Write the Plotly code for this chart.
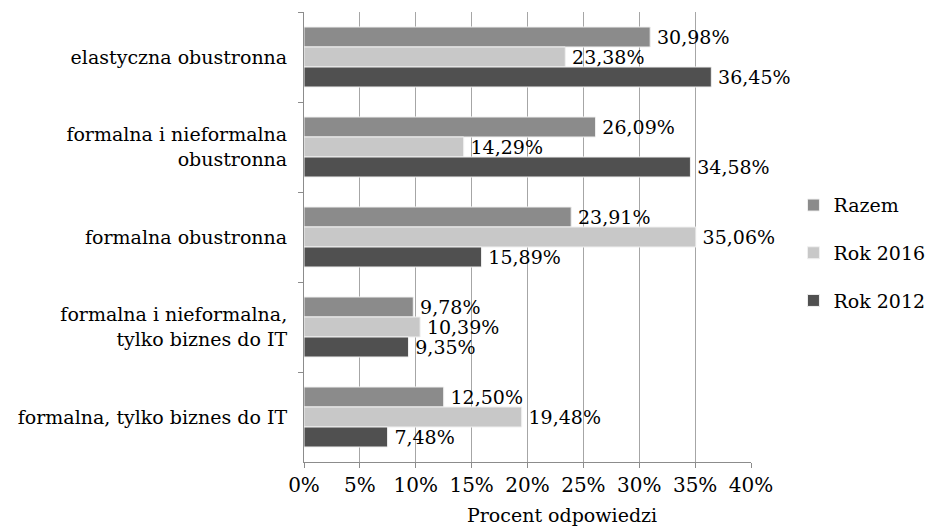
import plotly.graph_objects as go

categories = [
    "elastyczna obustronna",
    "formalna i nieformalna<br>obustronna",
    "formalna obustronna",
    "formalna i nieformalna,<br>tylko biznes do IT",
    "formalna, tylko biznes do IT",
]
series_names = ["Razem", "Rok 2016", "Rok 2012"]
razem = [30.98, 26.09, 23.91, 9.78, 12.50]
rok2016 = [23.38, 14.29, 35.06, 10.39, 19.48]
rok2012 = [36.45, 34.58, 15.89, 9.35, 7.48]
colors = ["#8b8b8b", "#c8c8c8", "#505050"]
x_ticks = [0, 5, 10, 15, 20, 25, 30, 35, 40]

FONT = "DejaVu Serif, Liberation Serif, serif"
FS = 19

def fmt(v):
    return "\u2009" + f"{v:.2f}".replace(".", ",") + "%"

fig = go.Figure()
for i, (name, vals) in enumerate(zip(series_names, [razem, rok2016, rok2012])):
    fig.add_trace(go.Bar(
        y=categories, x=vals, name=name, orientation="h",
        marker=dict(color=colors[i], line=dict(color="#f0f0f0", width=1)),
        text=[fmt(v) for v in vals], textposition="outside",
        constraintext="none",
        textfont=dict(family=FONT, size=FS, color="#000000"),
        cliponaxis=False, legendgroup=name,
    ))

fig.update_layout(
    width=932, height=527,
    margin=dict(l=304, r=181, t=12, b=65, autoexpand=False),
    paper_bgcolor="white", plot_bgcolor="white",
    barmode="group", bargap=1/3, bargroupgap=0,
    font=dict(family=FONT, size=FS, color="#000000"),
    showlegend=True,
    legend=dict(x=1.095, xanchor="left", xref="paper", y=0.464, yanchor="middle",
                bgcolor="rgba(0,0,0,0)",
                traceorder="grouped", tracegroupgap=20,
                font=dict(family=FONT, size=FS), itemwidth=30),
)
fig.update_xaxes(
    range=[0, 40], tickvals=x_ticks, ticktext=[f"{t}%" for t in x_ticks],
    showgrid=True, gridcolor="#a6a6a6", gridwidth=1,
    showline=True, linecolor="#8c8c8c", linewidth=1,
    ticks="outside", ticklen=5, tickcolor="#8c8c8c",
    zeroline=False, tickfont=dict(family=FONT, size=20),
)
fig.update_yaxes(
    autorange="reversed", showline=True, linecolor="#8c8c8c", linewidth=1,
    ticks="outside", ticklen=5, tickcolor="#8c8c8c", tickson="boundaries",
    showgrid=False, tickfont=dict(family=FONT, size=FS), ticklabelstandoff=12,
)
fig.add_annotation(text="Procent odpowiedzi", xref="paper", yref="paper",
                   x=0.578, y=0, yshift=-40, xanchor="center", yanchor="top",
                   showarrow=False, font=dict(family=FONT, size=FS))

fig.write_html("out.html")
